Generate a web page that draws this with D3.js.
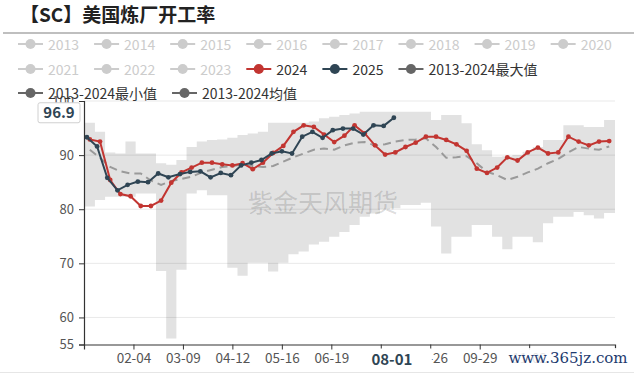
<!DOCTYPE html>
<html>
<head>
<meta charset="utf-8">
<script src="https://cdn.jsdelivr.net/npm/d3@7"></script>
<style>
  body { margin: 0; background: #fff; }
  svg { display: block; font-family: "Noto Sans CJK SC", "Noto Sans", sans-serif; }
</style>
</head>
<body>
<div id="chart"></div>
<script>
// ---- data ----
var title = "【SC】美国炼厂开工率";

var legendRows = [
  ["2013", "2014", "2015", "2016", "2017", "2018", "2019", "2020"],
  ["2021", "2022", "2023", "2024", "2025", "2013-2024最大值"],
  ["2013-2024最小值", "2013-2024均值"]
];
var activeColors = {
  "2024": "#c23531",
  "2025": "#2f4554",
  "2013-2024最大值": "#666",
  "2013-2024最小值": "#666",
  "2013-2024均值": "#666"
};

// weekly values (week ending Friday)
var v2024 = [92.9, 92.5, 85.4, 82.8, 82.4, 80.6, 80.6, 81.6, 84.9, 86.8,
             87.7, 88.6, 88.6, 88.3, 88.1, 88.5, 87.4, 88.6, 90.4, 91.7,
             94.3, 95.5, 95.2, 93.8, 92.4, 93.6, 95.5, 94.0, 91.8, 90.1,
             90.5, 91.5, 92.3, 93.4, 93.4, 92.8, 92.0, 90.8, 87.5, 86.7,
             87.7, 89.6, 89.0, 90.5, 91.4, 90.3, 90.5, 93.4, 92.5, 91.8,
             92.5, 92.6];
var v2025 = [93.3, 91.6, 85.8, 83.5, 84.5, 85.1, 85.0, 86.6, 85.9, 86.5,
             86.9, 87.0, 85.9, 86.7, 86.3, 88.1, 88.6, 89.1, 90.3, 90.7,
             90.3, 93.4, 94.3, 93.2, 94.6, 94.9, 94.9, 93.8, 95.5, 95.4,
             96.9];
var vMean = [91.0, 89.5, 87.8, 87.0, 86.6, 86.6, 85.3, 84.5, 85.2, 85.6,
             86.0, 86.8, 87.3, 87.8, 88.0, 88.3, 88.0, 87.8, 88.0, 88.8,
             89.6, 90.3, 91.0, 91.2, 91.0, 91.8, 92.3, 92.4, 91.8, 92.0,
             92.5, 92.8, 92.9, 93.1, 91.5, 89.5, 89.6, 89.8, 88.5, 86.9,
             86.3, 85.4, 86.0, 86.8, 87.5, 88.5, 89.3, 90.5, 91.5, 91.2,
             91.0, 91.6];
var vMax = [96.0, 94.3, 90.5, 90.3, 92.5, 90.3, 90.3, 88.5, 88.2, 89.1,
            91.5, 92.5, 92.8, 92.9, 93.2, 93.7, 94.0, 94.3, 96.0, 96.0,
            96.0, 96.0, 96.2, 96.8, 97.1, 97.4, 97.7, 98.0, 98.0, 98.0,
            98.0, 98.0, 98.0, 98.0, 96.5, 97.4, 97.4, 95.9, 92.0, 90.9,
            89.7, 89.8, 90.0, 90.6, 91.5, 92.8, 92.8, 95.5, 95.5, 95.2,
            95.2, 96.5];
var vMin = [80.5, 81.7, 82.3, 82.3, 82.3, 82.9, 82.9, 68.6, 56.1, 68.8,
            82.9, 83.5, 82.6, 82.6, 69.2, 67.7, 70.1, 70.1, 68.5, 70.1,
            71.7, 72.2, 73.5, 74.0, 74.9, 75.8, 77.1, 78.6, 79.2, 80.0,
            80.2, 80.8, 80.8, 81.2, 76.8, 71.8, 74.9, 74.9, 77.1, 77.1,
            74.9, 72.6, 74.9, 74.9, 73.9, 77.4, 78.6, 78.6, 79.5, 78.9,
            78.3, 79.3];

var yTicks = [55, 60, 70, 80, 90, 100];
var xTickLabels = ["02-04", "03-09", "04-12", "05-16", "06-19", "07-23", "08-26", "09-29", "11-02"];
var pointerX = "08-01", pointerY = 96.9;

// ---- layout ----
var W = 634, H = 374;
var margin = {top: 101, right: 19, bottom: 29.5, left: 84};

var fmt = d3.timeFormat("%m-%d");
var days = d3.timeDay.range(new Date(2024, 0, 1), new Date(2025, 0, 1)).map(fmt);
var weeks2024 = d3.timeFriday.range(new Date(2024, 0, 1), new Date(2025, 0, 1)).map(fmt);
var weeks2025 = d3.timeFriday.range(new Date(2025, 0, 1), new Date(2025, 7, 2)).map(fmt);

var svg = d3.select("#chart").append("svg")
  .attr("width", W).attr("height", H);

var x = d3.scalePoint().domain(days).range([margin.left, W - margin.right]);
var y = d3.scaleLinear().domain([55, 100]).range([H - margin.bottom, margin.top]);

// title + separator
svg.append("text")
  .attr("x", 20).attr("y", 22)
  .attr("font-size", 19).attr("font-weight", "bold").attr("fill", "#222")
  .text(title);
svg.append("line")
  .attr("x1", 3).attr("x2", 634).attr("y1", 33).attr("y2", 33)
  .attr("stroke", "#aaa").attr("stroke-width", 1.5);
svg.append("line")
  .attr("x1", 0).attr("x2", 634).attr("y1", 372.5).attr("y2", 372.5)
  .attr("stroke", "#e6e6e6");

// band max/min
var band = weeks2024.map(function(d, i) { return {day: d, max: vMax[i], min: vMin[i]}; });
band.unshift({day: days[0], max: vMax[0], min: vMin[0]});
band.push({day: days[days.length - 1], max: vMax[vMax.length - 1], min: vMin[vMin.length - 1]});

svg.append("path")
  .datum(band)
  .attr("fill", "#e2e2e2")
  .attr("d", d3.area()
    .x(function(d) { return x(d.day); })
    .y0(function(d) { return y(d.min); })
    .y1(function(d) { return y(d.max); })
    .curve(d3.curveStep));

// grid
svg.append("g").selectAll("line")
  .data(yTicks.filter(function(t) { return t > 55; }))
  .enter().append("line")
  .attr("x1", margin.left).attr("x2", W - margin.right)
  .attr("y1", function(d) { return y(d); }).attr("y2", function(d) { return y(d); })
  .attr("stroke", "rgba(0,0,0,0.09)");

// watermark
svg.append("text")
  .attr("x", 323).attr("y", 201)
  .attr("text-anchor", "middle").attr("dominant-baseline", "central")
  .attr("font-size", 25).attr("fill", "rgba(0,0,0,0.14)")
  .text("紫金天风期货");

// mean line
svg.append("path")
  .datum(vMean)
  .attr("fill", "none")
  .attr("stroke", "#9a9a9a")
  .attr("stroke-width", 2)
  .attr("stroke-dasharray", "8,5")
  .attr("d", d3.line()
    .x(function(d, i) { return x(weeks2024[i]); })
    .y(function(d) { return y(d); }));

function drawSeries(vals, weeks, color) {
  svg.append("path")
    .datum(vals)
    .attr("fill", "none")
    .attr("stroke", color)
    .attr("stroke-width", 2)
    .attr("d", d3.line()
      .x(function(d, i) { return x(weeks[i]); })
      .y(function(d) { return y(d); }));
  svg.append("g").selectAll("circle")
    .data(vals).enter().append("circle")
    .attr("cx", function(d, i) { return x(weeks[i]); })
    .attr("cy", function(d) { return y(d); })
    .attr("r", 2.4)
    .attr("fill", color);
}
drawSeries(v2024, weeks2024, activeColors["2024"]);
drawSeries(v2025, weeks2025, activeColors["2025"]);

// axes
var yAxis = svg.append("g")
  .attr("transform", "translate(" + margin.left + ",0)")
  .call(d3.axisLeft(y).tickValues(yTicks).tickSize(5).tickPadding(5));
var xAxis = svg.append("g")
  .attr("transform", "translate(0," + (H - margin.bottom) + ")")
  .call(d3.axisBottom(x).tickValues(xTickLabels).tickSize(5).tickPadding(4));

[yAxis, xAxis].forEach(function(a) {
  a.select(".domain").attr("stroke", "#333").attr("stroke-width", 1.2);
  a.selectAll(".tick line").attr("stroke", "#333");
  a.selectAll("text").attr("fill", "#555").attr("font-family", "\"Noto Sans CJK SC\", sans-serif");
});
yAxis.selectAll("text").attr("font-size", 13);
xAxis.selectAll("text").attr("font-size", 13.5);

// axis pointer labels
var px = x(pointerX);
svg.append("rect")
  .attr("x", px - 36).attr("y", H - margin.bottom + 4)
  .attr("width", 74).attr("height", 22)
  .attr("fill", "#fff");
svg.append("text")
  .attr("x", px - 2).attr("y", H - margin.bottom + 20)
  .attr("text-anchor", "middle")
  .attr("font-size", 15).attr("font-weight", "bold").attr("fill", "#2f4554")
  .text(pointerX);

var py = y(pointerY);
svg.append("rect")
  .attr("x", 38).attr("y", py - 15)
  .attr("width", 42).attr("height", 20).attr("rx", 2)
  .attr("fill", "#fff").attr("stroke", "#d0d0d0");
svg.append("text")
  .attr("x", 59).attr("y", py)
  .attr("text-anchor", "middle")
  .attr("font-size", 15).attr("font-weight", "bold").attr("fill", "#2f4554")
  .text(pointerY);

// legend
var rowY = [44, 69, 93];
legendRows.forEach(function(row, r) {
  var cx = 18;
  row.forEach(function(name) {
    var col = activeColors[name] || "#ccc";
    var g = svg.append("g").attr("transform", "translate(" + cx + "," + rowY[r] + ")");
    g.append("line").attr("x1", 0).attr("x2", 25).attr("stroke", col).attr("stroke-width", 2);
    g.append("circle").attr("cx", 12.5).attr("r", 5).attr("fill", col);
    var t = g.append("text")
      .attr("x", 30).attr("dominant-baseline", "central")
      .attr("font-size", 14).attr("fill", activeColors[name] ? "#333" : "#ccc")
      .text(name);
    cx += 30 + t.node().getComputedTextLength() + 15;
  });
});

// site watermark
svg.append("rect")
  .attr("x", 510).attr("y", 348).attr("width", 118).attr("height", 20)
  .attr("fill", "rgba(255,255,255,0.85)");
svg.append("text")
  .attr("x", 568).attr("y", 363)
  .attr("text-anchor", "middle")
  .attr("font-family", "\"DejaVu Serif\", serif")
  .attr("font-size", 15).attr("fill", "#1d3a6e")
  .text("www.365jz.com");
</script>
</body>
</html>
